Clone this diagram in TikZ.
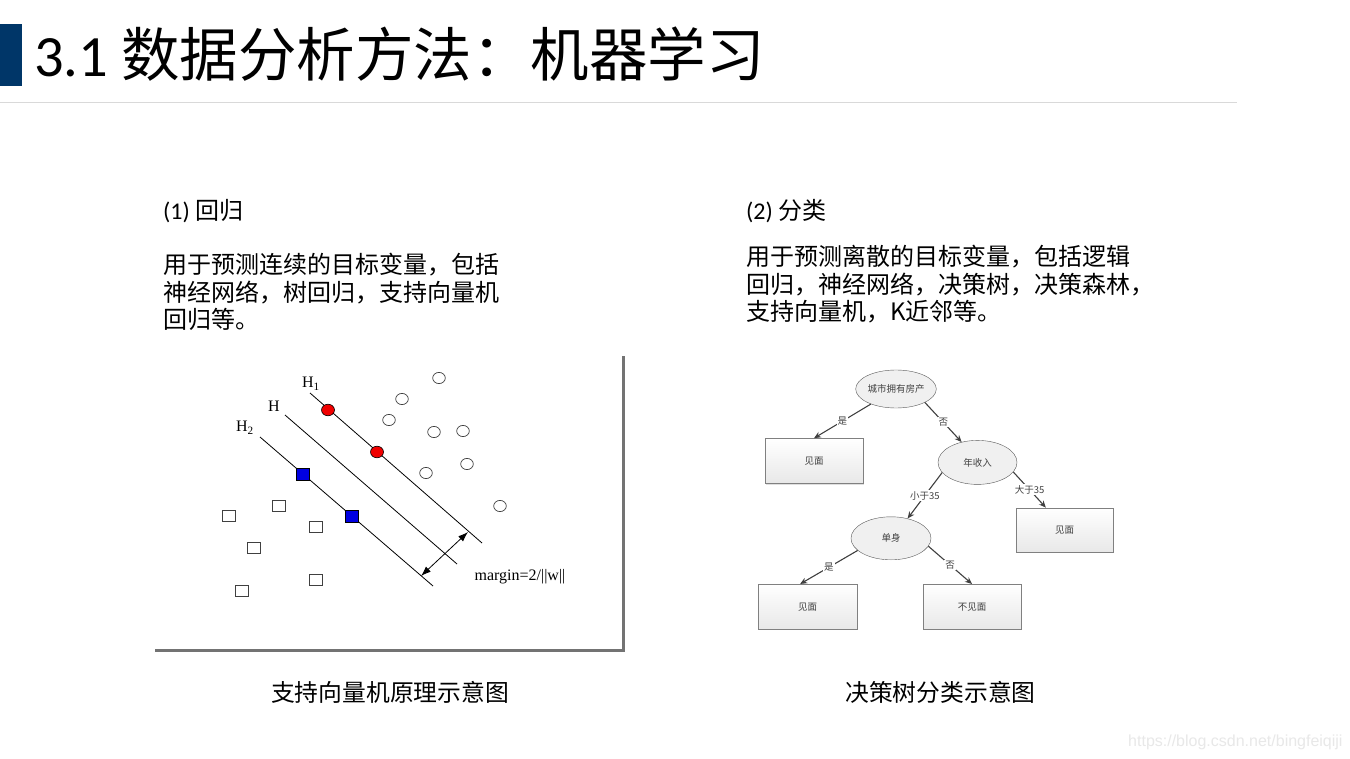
\documentclass[tikz,border=0pt]{standalone}
\usepackage{fontspec}
\setmainfont{Carlito}
\newfontfamily\cjk{Noto Sans CJK SC}
\newfontfamily\tms{Liberation Serif}
\newfontfamily\arl{Liberation Sans}
\usetikzlibrary{arrows.meta, positioning, shapes.geometric, shadows}
\definecolor{mlBar}{RGB}{0,54,104}
\definecolor{mlRule}{RGB}{217,217,217}
\definecolor{mlRed}{RGB}{240,0,0}
\definecolor{mlBlue}{RGB}{0,0,225}
\definecolor{mlEdge}{RGB}{64,64,64}

\begin{document}
\begin{tikzpicture}[x=1pt, y=-1pt,
    head/.style={anchor=base west, inner sep=0pt, font=\fontsize{24}{27.5}\selectfont},
    para/.style={anchor=base west, inner sep=0pt, align=left, font=\cjk\fontsize{24}{27.5}\selectfont},
    caption/.style={anchor=base, inner sep=0pt, font=\cjk\fontsize{23.8}{28}\selectfont},
    plane/.style={draw=black, line width=0.8pt},
    hlabel/.style={inner sep=0pt, font=\tms\fontsize{16}{18}\selectfont},
    opendot/.style={draw=black!75, line width=0.7pt, fill=white},
    query/.style={ellipse, draw=black!65, fill=black!6, minimum width=78pt, minimum height=38pt,
      inner sep=0pt, font=\cjk\fontsize{9.5}{11}\selectfont, text=black!75},
    leaf/.style={rectangle, draw=black!50, top color=white, bottom color=black!9,
      drop shadow={shadow xshift=1.2pt, shadow yshift=-1.2pt, opacity=0.25},
      minimum width=98pt, minimum height=45pt, inner sep=0pt, font=\cjk\fontsize{9.5}{11}\selectfont, text=black!75},
    branch/.style={-{Stealth[length=7pt,width=6pt]}, line width=1.1pt, draw=mlEdge},
    brlabel/.style={fill=white, inner sep=1pt, font=\cjk\fontsize{9.5}{11}\selectfont, text=black!75}
  ]
    \useasboundingbox (0,0) rectangle (1350,759);
    \fill[white] (0,0) rectangle (1350,759);
    \fill[mlBar] (0,24) rectangle (22,86);
    \node[anchor=base west, inner sep=0pt, font=\fontsize{58.5}{60}\selectfont] (title) at (34,77) {3.1 {\cjk 数据分析方法：机器学习}};
    \draw[mlRule, line width=1pt] (0,103) -- (1237,103);
    \node[head] (reg) at (163,220) {(1) {\cjk 回归}};
    \node[para] (regtext) at (163,329) {用于预测连续的目标变量，包括\\神经网络，树回归，支持向量机\\回归等。};
    \node[head] (cls) at (746,220) {(2) {\cjk 分类}};
    \node[para] (clstext) at (746,321) {用于预测离散的目标变量，包括逻辑\\回归，神经网络，决策树，决策森林，\\支持向量机，K近邻等。};
    \draw[black!55, line width=3pt] (155,650) -- (623,650) -- (623,356);
    \draw[plane] (310,393) -- (482,543);
    \draw[plane] (285,415) -- (457,564);
    \draw[plane] (260,437) -- (433,586);
    \node[hlabel] (h1) at (311,384) {H\textsubscript{1}};
    \node[hlabel] (h0) at (274,406) {H};
    \node[hlabel] (h2) at (245,428) {H\textsubscript{2}};
    \foreach \x/\y in {439/378, 402/399, 389/420, 434/432, 463/431, 467/464, 426/473, 500/506}
      \draw[opendot] (\x,\y) ellipse [x radius=6.3pt, y radius=5.6pt];
    \foreach \x/\y in {279/506, 229/516, 316/527, 254/548, 316/580, 242/591}
      \draw[opendot] (\x-6.5,\y-5.5) rectangle (\x+6.5,\y+5.5);
    \foreach \x/\y in {328/410, 377/452}
      \draw[black, line width=0.6pt, fill=mlRed] (\x,\y) ellipse [x radius=6.5pt, y radius=5.8pt];
    \foreach \x/\y in {303/474, 352/516}
      \draw[black, line width=0.6pt, fill=mlBlue] (\x-6.5,\y-6) rectangle (\x+6.5,\y+6);
    \coordinate (mtop) at (468,532);
    \coordinate (mbot) at (421,576);
    \draw[{Latex[length=10pt,width=7pt]}-{Latex[length=10pt,width=7pt]}, line width=0.8pt] (mtop) -- (mbot);
    \node[hlabel] (margin) at (520,577) {margin=2/||w||};
    \node[caption] (svmcap) at (390,701) {支持向量机原理示意图};
    \node[query] (root) at (896,389) {城市拥有房产};
    \node[leaf, below=30pt of root, xshift=-82pt] (meet1) {见面};
    \node[query, below=32pt of root, xshift=81.5pt, minimum width=79pt, minimum height=44pt] (income) {年收入};
    \node[leaf, below=23pt of income, xshift=87pt, minimum width=97pt, minimum height=44pt] (meet2) {见面};
    \node[query, below=32pt of income, xshift=-86.5pt, minimum width=80pt, minimum height=43pt] (single) {单身};
    \node[leaf, below=24pt of single, xshift=-83.5pt, minimum width=99pt] (meet3) {见面};
    \node[leaf, below=24pt of single, xshift=81pt] (nomeet) {不见面};
    \draw[branch] (root) -- node[brlabel] {是} (meet1.north);
    \draw[branch] (root.-25) -- node[brlabel] {否} (income.128);
    \draw[branch] (income.196) -- node[brlabel] {小于35} (single.50);
    \draw[branch] (income.-15) -- node[brlabel] {大于35} (meet2.130);
    \draw[branch] (single.200) -- node[brlabel] {是} (meet3.108);
    \draw[branch] (single.-12) -- node[brlabel] {否} (nomeet.north);
    \node[caption] (treecap) at (940.5,701) {决策树分类示意图};
    \node[anchor=base west, inner sep=0pt, font=\arl\fontsize{16}{18}\selectfont, text=black!9] (mark) at (1128,746) {https://blog.csdn.net/bingfeiqiji};
  \end{tikzpicture}
\end{document}
